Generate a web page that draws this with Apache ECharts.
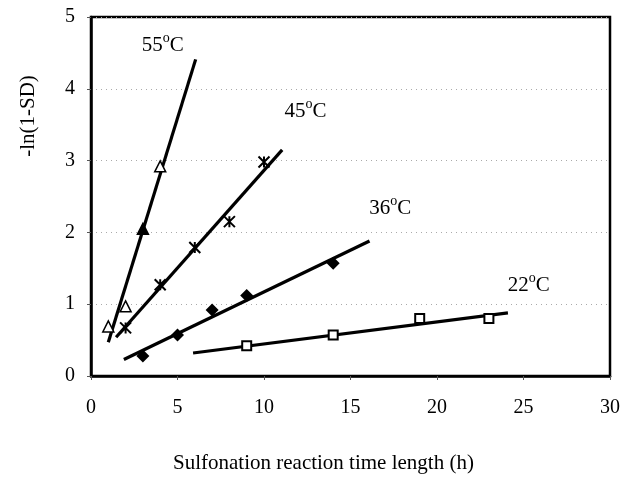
<!DOCTYPE html>
<html>
<head>
<meta charset="utf-8">
<script src="https://cdn.jsdelivr.net/npm/echarts@6/dist/echarts.min.js"></script>
<style>
  html, body { margin: 0; padding: 0; background: #fff; }
  #chart { width: 623px; height: 480px; }
</style>
</head>
<body>
<div id="chart"></div>
<script>
// Measured points: reaction time (h) vs -ln(1-SD), per temperature
const t55 = [1, 2, 3, 4];
const v55 = [0.69, 0.97, 2.05, 2.92];
const t45 = [2, 4, 6, 8, 10];
const v45 = [0.67, 1.27, 1.79, 2.15, 2.98];
const t36 = [3, 5, 7, 9, 14];
const v36 = [0.28, 0.57, 0.92, 1.12, 1.57];
const t22 = [9, 14, 19, 23];
const v22 = [0.42, 0.57, 0.80, 0.80];

// Fitted straight lines (start and end points)
const fit55 = [[1.0, 0.47], [6.05, 4.41]];
const fit45 = [[1.45, 0.54], [11.05, 3.15]];
const fit36 = [[1.9, 0.23], [16.1, 1.88]];
const fit22 = [[5.9, 0.32], [24.1, 0.88]];

// Temperature labels and their anchor positions
const tempLabels = ['55', '45', '36', '22'];
const labelPos = [[4.15, 4.6], [12.4, 3.68], [17.3, 2.33], [25.3, 1.26]];

const xTicks = [0, 5, 10, 15, 20, 25, 30];
const yTicks = [0, 1, 2, 3, 4, 5];

const serif = 'Liberation Serif';
// Star marker: an X crossed by a vertical stroke
const asterisk = 'path://M0,0L10,10M10,0L0,10M5,0L5,10';

function pts(xs, ys) { return xs.map((x, i) => [x, ys[i]]); }

function fitSeries(d) {
  return {
    type: 'line', data: d, symbol: 'none', silent: true,
    lineStyle: { color: '#000', width: 3.2 }, z: 2
  };
}

const chart = echarts.init(document.getElementById('chart'), null, { renderer: 'canvas' });
chart.setOption({
  animation: false,
  backgroundColor: '#fff',
  grid: {
    left: 91, right: 13, top: 17, bottom: 104,
    show: true, borderColor: '#000', borderWidth: 2.5, backgroundColor: 'transparent'
  },
  xAxis: {
    type: 'value', min: xTicks[0], max: xTicks[xTicks.length - 1], interval: 5,
    axisLine: { show: true, lineStyle: { color: '#000', width: 2.5 } },
    axisTick: { show: true, length: 4, lineStyle: { color: '#555', width: 1 } },
    axisLabel: { color: '#000', fontFamily: serif, fontSize: 20, margin: 22 },
    splitLine: { show: false }
  },
  yAxis: {
    type: 'value', min: yTicks[0], max: yTicks[yTicks.length - 1], interval: 1,
    axisLine: { show: true, lineStyle: { color: '#000', width: 2.5 } },
    axisTick: { show: true, length: 4, lineStyle: { color: '#555', width: 1 } },
    axisLabel: { color: '#000', fontFamily: serif, fontSize: 20, margin: 16 },
    splitLine: { show: true, lineStyle: { color: '#aaa', type: [1, 4], width: 1 } }
  },
  graphic: [
    {
      type: 'text', x: 173, y: 463,
      style: { text: 'Sulfonation reaction time length (h)', font: '21px "Liberation Serif"', fill: '#000', verticalAlign: 'middle' }
    },
    {
      type: 'text', x: 28, y: 116, rotation: Math.PI / 2,
      style: { text: '-ln(1-SD)', font: '21px "Liberation Serif"', fill: '#000', align: 'center', verticalAlign: 'middle' }
    }
  ],
  series: [
    fitSeries(fit55), fitSeries(fit45), fitSeries(fit36), fitSeries(fit22),
    {
      type: 'scatter', data: pts(t55, v55), symbol: 'triangle', symbolSize: 11, z: 3,
      itemStyle: {
        opacity: 1,
        color: (p) => (p.dataIndex === 2 ? '#000' : '#fff'),
        borderColor: '#000', borderWidth: 1.5
      }
    },
    {
      type: 'scatter', data: pts(t45, v45), symbol: asterisk, symbolSize: 11, z: 3,
      itemStyle: { opacity: 1, color: 'none', borderColor: '#000', borderWidth: 2 }
    },
    {
      type: 'scatter', data: pts(t36, v36), symbol: 'diamond', symbolSize: 13, z: 3,
      itemStyle: { opacity: 1, color: '#000' }
    },
    {
      type: 'scatter', data: pts(t22, v22), symbol: 'rect', symbolSize: 9, z: 3,
      itemStyle: { opacity: 1, color: '#fff', borderColor: '#000', borderWidth: 2 }
    },
    {
      type: 'scatter', data: labelPos, symbolSize: 0, silent: true, z: 4,
      itemStyle: { opacity: 1 },
      label: {
        show: true, position: 'inside', opacity: 1,
        formatter: (p) => tempLabels[p.dataIndex] + '{s|o}C',
        color: '#000', fontFamily: serif, fontSize: 21,
        rich: { s: { fontSize: 14, fontFamily: serif, verticalAlign: 'top', padding: [0, 0, 14, 0], color: '#000' } }
      }
    }
  ]
});
</script>
</body>
</html>
